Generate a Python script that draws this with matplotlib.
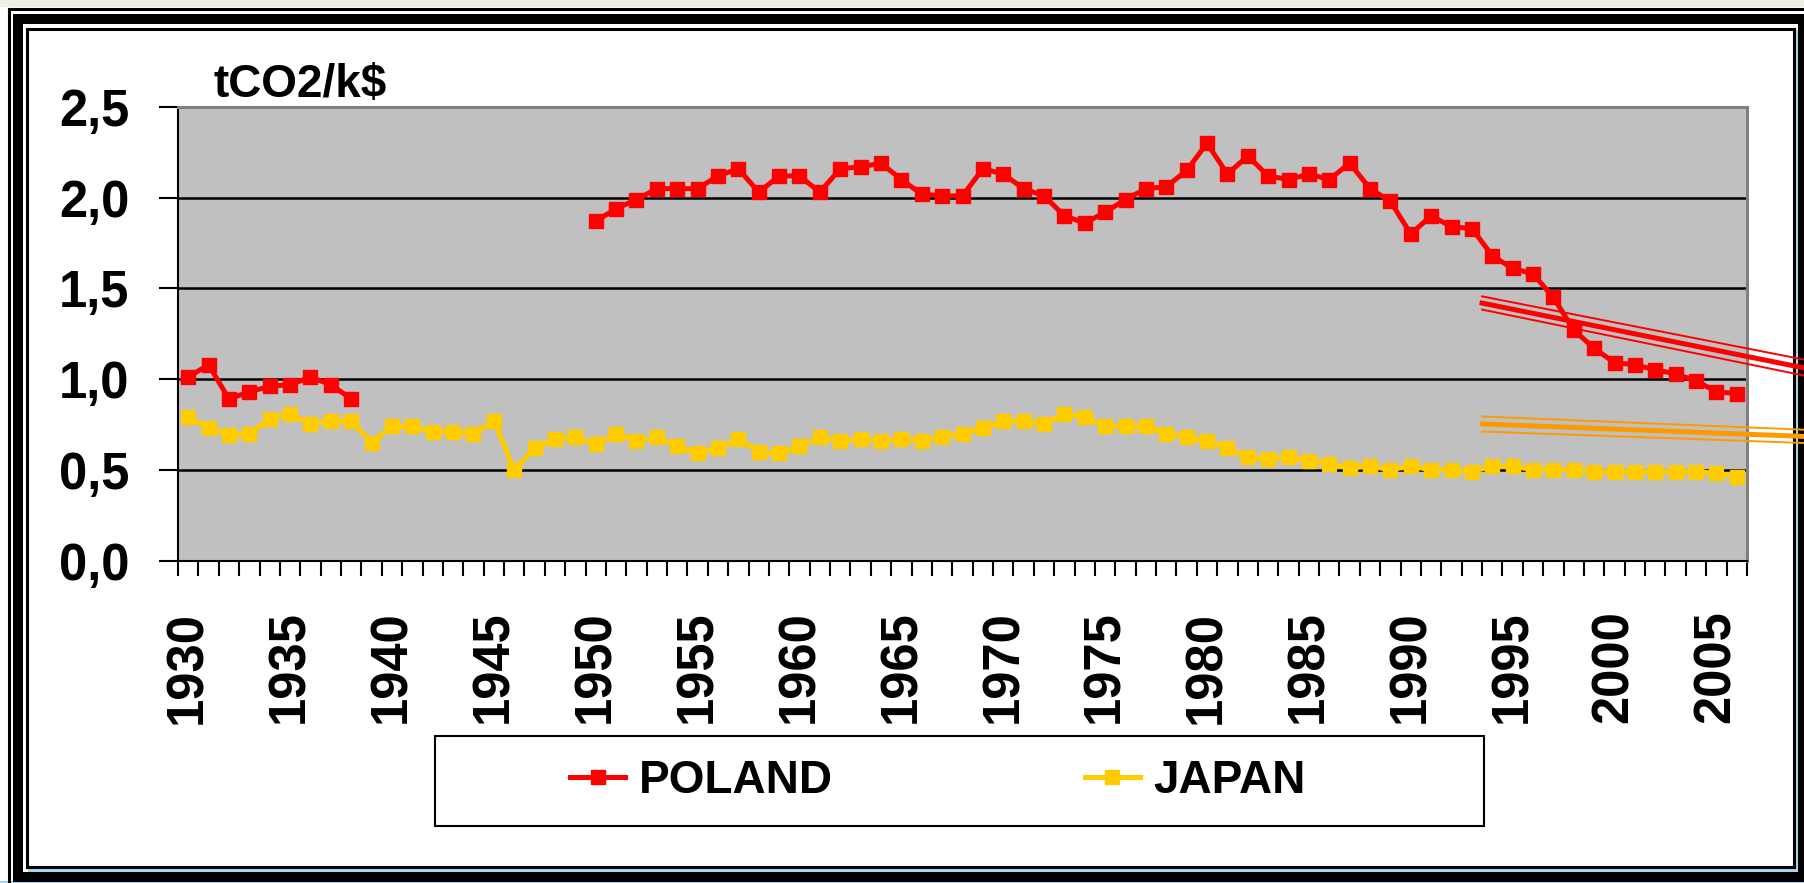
import numpy as np
import matplotlib.pyplot as plt
from matplotlib.patches import Rectangle
from matplotlib.lines import Line2D

plt.rcParams['font.family'] = ['Liberation Sans', 'DejaVu Sans']
plt.rcParams['font.weight'] = 'bold'

W, H = 1804, 883

# ---------------- data ----------------
years = list(range(1930, 2007))
poland = ([1.01, 1.08, 0.89, 0.93, 0.96, 0.97, 1.01, 0.97, 0.89] + [np.nan] * 11 +
          [1.87, 1.94, 1.99, 2.05, 2.05, 2.05, 2.12, 2.16, 2.03, 2.12,
           2.12, 2.03, 2.16, 2.17, 2.19, 2.10, 2.02, 2.01, 2.01, 2.16,
           2.13, 2.05, 2.01, 1.90, 1.86, 1.92, 1.99, 2.05, 2.06, 2.15,
           2.30, 2.13, 2.23, 2.12, 2.10, 2.13, 2.10, 2.19, 2.05, 1.98,
           1.80, 1.90, 1.84, 1.83, 1.68, 1.61, 1.58, 1.45, 1.27, 1.17,
           1.09, 1.08, 1.05, 1.03, 0.99, 0.93, 0.92])
japan = [0.79, 0.73, 0.69, 0.70, 0.78, 0.81, 0.75, 0.77, 0.77, 0.65,
         0.74, 0.74, 0.71, 0.71, 0.70, 0.77, 0.50, 0.62, 0.67, 0.68,
         0.64, 0.70, 0.66, 0.68, 0.63, 0.59, 0.62, 0.67, 0.60, 0.59,
         0.63, 0.68, 0.66, 0.67, 0.66, 0.67, 0.66, 0.68, 0.70, 0.73,
         0.77, 0.77, 0.75, 0.81, 0.79, 0.74, 0.74, 0.74, 0.70, 0.68,
         0.66, 0.62, 0.57, 0.56, 0.57, 0.55, 0.53, 0.51, 0.52, 0.50,
         0.52, 0.50, 0.50, 0.49, 0.52, 0.52, 0.50, 0.50, 0.50, 0.49,
         0.49, 0.49, 0.49, 0.49, 0.49, 0.48, 0.46]
yticks = [0.0, 0.5, 1.0, 1.5, 2.0, 2.5]

# trend-arrow decorations (category index, value)
trend_x = [64, 80]
red_trend = [(1.456, 1.103), (1.419, 1.057), (1.383, 1.015)]
orange_trend = [(0.794, 0.720), (0.753, 0.683), (0.711, 0.647)]


def fx(px):
    return px / W


def fy(py):
    return 1 - py / H


fig = plt.figure(figsize=(W / 100, H / 100), dpi=100, facecolor='white')

# ---------------- outer frames ----------------
fig.add_artist(Rectangle((0, fy(7)), 1, 7 / H, facecolor='#EEF0E6', edgecolor='none', zorder=0))
fig.add_artist(Rectangle((fx(1795), fy(872)), 3 / W, (872 - 30) / H,
                         facecolor='#A8D8EE', edgecolor='none', zorder=1))
fig.add_artist(Rectangle((fx(28), fy(872)), (1798 - 28) / W, 4 / H,
                         facecolor='#A8D8EE', edgecolor='none', zorder=1))
fig.add_artist(Rectangle((0, 0), 1, 2 / H, facecolor='#A8D8EE', edgecolor='none', zorder=1))
fig.add_artist(Line2D([fx(8.5), fx(8.5)], [fy(9), 0], color='black', lw=2.2, zorder=2))
fig.add_artist(Line2D([fx(8.5), 1], [fy(9), fy(9)], color='black', lw=2.2, zorder=2))
fig.add_artist(Rectangle((fx(18), fy(876.5)), (1803 - 18) / W, (876.5 - 19) / H,
                         fill=False, edgecolor='black', lw=7.2, zorder=2))
fig.add_artist(Rectangle((fx(26.5), fy(866.5)), (1793.5 - 26.5) / W, (866.5 - 28.5) / H,
                         fill=False, edgecolor='black', lw=2.2, zorder=2))

# ---------------- plot area ----------------
ax = fig.add_axes([fx(178), fy(560.5), (1747 - 178) / W, (560.5 - 107) / H])
ax.set_facecolor('#C0C0C0')
x = np.arange(len(years)) + 0.5

l1, = ax.plot(x, poland, color='#FF0000', lw=3.6, marker='s', ms=9.6, zorder=3)
l2, = ax.plot(x, japan, color='#FFCC00', lw=3.6, marker='s', ms=9.6, zorder=3)

ax.set_xlim(0, len(years))
ax.set_ylim(0, 2.5)

ax.set_yticks(yticks)
ax.set_yticklabels([f"{v:.1f}".replace('.', ',') for v in yticks])
ax.yaxis.grid(True, color='black', lw=1.8)
ax.set_axisbelow(True)
ax.tick_params(axis='y', length=14, width=1.5, pad=21, labelsize=36.5)

ax.set_xticks(np.arange(len(years) + 1))
ax.set_xticklabels([])
ax.tick_params(axis='x', which='major', length=11, width=1.5)
ax.set_xticks(x[::5], [str(y) for y in years[::5]], minor=True, rotation=90)
ax.tick_params(axis='x', which='minor', length=0, pad=36, labelsize=36.5)

for s in ['top', 'right']:
    ax.spines[s].set_color('#808080')
    ax.spines[s].set_linewidth(2.2)
for s in ['left', 'bottom']:
    ax.spines[s].set_color('black')
    ax.spines[s].set_linewidth(1.5)

fig.text(fx(213), fy(97), r'tCO2/k\$', fontsize=33, fontweight='bold', va='baseline')

# trend decorations drawn over everything
for (a, b), lw in zip(red_trend, [1.4, 3.6, 1.4]):
    fig.add_artist(Line2D(trend_x, [a, b], color='#FF0000', lw=lw,
                          transform=ax.transData, zorder=10))
for (a, b), lw in zip(orange_trend, [1.4, 3.6, 1.4]):
    fig.add_artist(Line2D(trend_x, [a, b], color='#FF9900', lw=lw,
                          transform=ax.transData, zorder=10))

# ---------------- legend ----------------
fig.add_artist(Rectangle((fx(435), fy(826)), (1484 - 435) / W, (826 - 736) / H,
                         facecolor='white', edgecolor='black', lw=1.5, zorder=3))
leg = fig.legend([l1, l2], ['POLAND', 'JAPAN'], loc='center',
                 bbox_to_anchor=(fx(938), fy(781)), ncol=2, frameon=False,
                 fontsize=33, handlelength=1.2, handletextpad=0.3, columnspacing=5.5)
leg.set_zorder(4)

fig.savefig('out.png', dpi=100, facecolor=fig.get_facecolor())
